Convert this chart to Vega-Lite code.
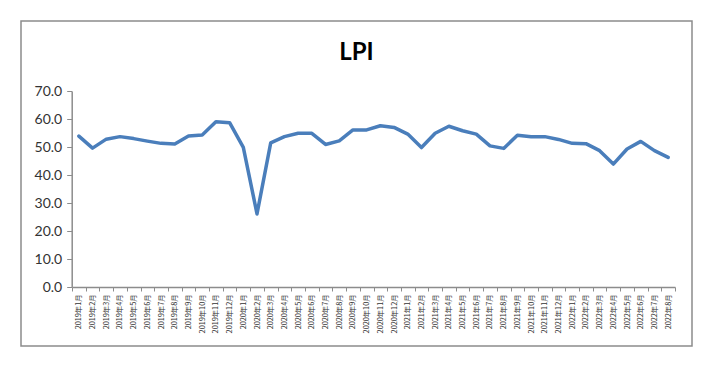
{
  "$schema": "https://vega.github.io/schema/vega-lite/v6.json",
  "width": 671,
  "height": 325,
  "autosize": {"type": "none"},
  "padding": {"left": 21, "top": 21, "right": 14, "bottom": 22},
  "background": "white",
  "config": {"view": {"stroke": "#8c8c8c", "strokeWidth": 1.5}},
  "title": {"text": "LPI", "font": "Lato", "fontSize": 24, "fontWeight": "bold", "color": "#000000", "anchor": "middle", "frame": "group", "baseline": "alphabetic", "offset": 0, "dy": 62.5},
  "data": {"values": [
    {"month": "2019年1月", "value": 53.9},
    {"month": "2019年2月", "value": 49.6},
    {"month": "2019年3月", "value": 52.8},
    {"month": "2019年4月", "value": 53.7},
    {"month": "2019年5月", "value": 53.0},
    {"month": "2019年6月", "value": 52.1},
    {"month": "2019年7月", "value": 51.3},
    {"month": "2019年8月", "value": 51.1},
    {"month": "2019年9月", "value": 53.9},
    {"month": "2019年10月", "value": 54.3},
    {"month": "2019年11月", "value": 59.0},
    {"month": "2019年12月", "value": 58.7},
    {"month": "2020年1月", "value": 49.9},
    {"month": "2020年2月", "value": 26.1},
    {"month": "2020年3月", "value": 51.5},
    {"month": "2020年4月", "value": 53.7},
    {"month": "2020年5月", "value": 54.9},
    {"month": "2020年6月", "value": 54.9},
    {"month": "2020年7月", "value": 50.9},
    {"month": "2020年8月", "value": 52.2},
    {"month": "2020年9月", "value": 56.1},
    {"month": "2020年10月", "value": 56.1},
    {"month": "2020年11月", "value": 57.6},
    {"month": "2020年12月", "value": 57.0},
    {"month": "2021年1月", "value": 54.6},
    {"month": "2021年2月", "value": 49.8},
    {"month": "2021年3月", "value": 54.9},
    {"month": "2021年4月", "value": 57.4},
    {"month": "2021年5月", "value": 55.8},
    {"month": "2021年6月", "value": 54.6},
    {"month": "2021年7月", "value": 50.4},
    {"month": "2021年8月", "value": 49.5},
    {"month": "2021年9月", "value": 54.2},
    {"month": "2021年10月", "value": 53.7},
    {"month": "2021年11月", "value": 53.7},
    {"month": "2021年12月", "value": 52.7},
    {"month": "2022年1月", "value": 51.3},
    {"month": "2022年2月", "value": 51.2},
    {"month": "2022年3月", "value": 48.7},
    {"month": "2022年4月", "value": 43.9},
    {"month": "2022年5月", "value": 49.3},
    {"month": "2022年6月", "value": 52.0},
    {"month": "2022年7月", "value": 48.7},
    {"month": "2022年8月", "value": 46.3}
  ]},
  "mark": {"type": "line", "color": "#4a7ebb", "strokeWidth": 3.5, "strokeJoin": "round", "strokeCap": "round"},
  "encoding": {
    "x": {
      "field": "month", "type": "ordinal", "sort": null,
      "scale": {"type": "band", "range": [51, 654], "paddingInner": 0, "paddingOuter": 0},
      "axis": {"title": null, "tickBand": "extent", "labelAngle": -90, "labelFont": "Noto Sans CJK SC", "labelFontSize": 7.3, "labelColor": "#333333", "labelPadding": 3, "offset": -59, "domainColor": "#8c8c8c", "domainWidth": 1.5, "tickColor": "#8c8c8c", "tickSize": 4, "tickWidth": 1, "grid": false}
    },
    "y": {
      "field": "value", "type": "quantitative",
      "scale": {"domain": [0, 70], "range": [266, 70], "nice": false, "zero": false},
      "axis": {"title": null, "values": [0, 10, 20, 30, 40, 50, 60, 70], "format": ".1f", "offset": -50.7, "labelFont": "Lato", "labelFontSize": 14, "labelColor": "#333333", "labelPadding": 5, "domainColor": "#8c8c8c", "domainWidth": 1.5, "tickColor": "#8c8c8c", "tickSize": 5, "grid": false}
    }
  }
}
